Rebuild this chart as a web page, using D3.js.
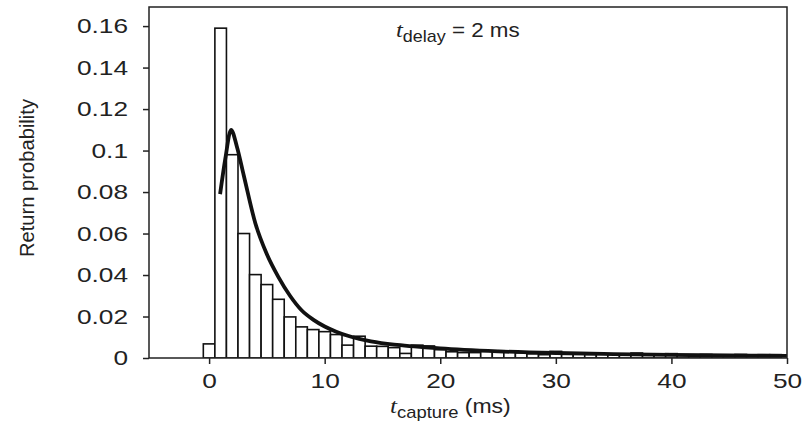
<!DOCTYPE html>
<html><head><meta charset="utf-8">
<script src="https://cdn.jsdelivr.net/npm/d3@7/dist/d3.min.js"></script>
<style>
body{margin:0;background:#fff;}
text{font-family:"Liberation Sans",Arial,sans-serif;fill:#222;}
</style></head>
<body><svg id="c" width="805" height="427"></svg>
<script>
// Histogram bins (1 ms wide, centred on integer t)
const binCenters = d3.range(0, 50);
const binValues = [0.0068,0.159,0.098,0.060,0.0402,0.0354,0.0283,0.0198,0.0150,0.0137,
  0.0127,0.0113,0.0062,0.0105,0.0057,0.0056,0.0050,0.0022,0.0062,0.0058,
  0.0040,0.0030,0.0026,0.0026,0.0033,0.0035,0.0030,0.0025,0.0020,0.0016,
  0.0032,0.0018,0.0018,0.0017,0.0018,0.0017,0.0018,0.0024,0.0018,0.0015,
  0.0021,0.0013,0.0013,0.0017,0.0013,0.0013,0.0017,0.0013,0.0016,0.0016];
// Model curve
const curveT = [0.95,1.4,1.9,2.4,3,4,5,6,7,8,9,10,11,12,13,14,16,18,20,25,30,35,40,45,50];
const curveP = [0.079,0.096,0.110,0.102,0.088,0.065,0.050,0.039,0.030,0.023,0.0185,0.0152,0.0127,0.0107,0.0092,0.008,0.0064,0.0055,0.0046,0.0032,0.0024,0.0019,0.0015,0.0012,0.0010];
const xTicks = [0,10,20,30,40,50];
const yTicks = [0,0.02,0.04,0.06,0.08,0.1,0.12,0.14,0.16];
const yTickLabels = ["0","0.02","0.04","0.06","0.08","0.1","0.12","0.14","0.16"];

const svg = d3.select("#c");
const L=149,R=787,T=7,B=358;
const SX=1.25;
const x = d3.scaleLinear().domain([-5.2,50]).range([L,R]);
const y = d3.scaleLinear().domain([0,0.1692]).range([B,T]);

svg.append("clipPath").attr("id","clip").append("rect")
  .attr("x",L).attr("y",T).attr("width",R-L).attr("height",B-T);

const g = svg.append("g").attr("clip-path","url(#clip)");
g.selectAll("rect.bar").data(binCenters).join("rect").attr("class","bar")
  .attr("x",d=>x(d-0.5)).attr("width",d=>x(d+0.5)-x(d-0.5))
  .attr("y",(d,i)=>y(binValues[i])).attr("height",(d,i)=>B-y(binValues[i]))
  .attr("fill","#fff").attr("stroke","#111").attr("stroke-width",1.6);

const line = d3.line().x((d,i)=>x(curveT[i])).y((d,i)=>y(curveP[i])).curve(d3.curveMonotoneX);
g.append("path").attr("d",line(curveT)).attr("fill","none")
  .attr("stroke","#111").attr("stroke-width",3.8).attr("stroke-linejoin","round");

// frame
svg.append("rect").attr("x",L).attr("y",T).attr("width",R-L).attr("height",B-T)
  .attr("fill","none").attr("stroke","#222").attr("stroke-width",1.5);

// axes
const xa = svg.append("g").attr("transform",`translate(0,${B})`)
  .call(d3.axisBottom(x).tickValues(xTicks).tickSize(6).tickPadding(9).tickFormat(d3.format("d")));
const ya = svg.append("g").attr("transform",`translate(${L},0)`)
  .call(d3.axisLeft(y).tickValues(yTicks).tickSize(6).tickPadding(15).tickFormat((d,i)=>yTickLabels[i]));
[xa,ya].forEach(a=>{
  a.select(".domain").remove();
  a.selectAll(".tick line").attr("stroke","#222").attr("stroke-width",1.5);
  a.selectAll(".tick text").style("font-size","21px").attr("fill","#222")
    .attr("transform",`scale(${SX},1)`);
});
ya.selectAll(".tick text").attr("x",-21/SX);

// y label
svg.append("text").attr("transform","translate(34,178) rotate(-90)")
  .attr("text-anchor","middle").style("font-family","'Liberation Sans Narrow','Liberation Sans',sans-serif")
  .style("font-size","21px").attr("textLength",158).attr("lengthAdjust","spacingAndGlyphs")
  .text("Return probability");

// x label
const xl = svg.append("text").attr("transform",`translate(390,413) scale(1.15,1)`).style("font-size","20px");
xl.append("tspan").style("font-style","italic").style("font-family","'Liberation Serif',serif").style("font-size","22px").text("t");
xl.append("tspan").attr("dy",5).style("font-size","16px").text("capture");
xl.append("tspan").attr("dy",-5).text(" (ms)");

// annotation
const an = svg.append("text").attr("transform",`translate(396,37) scale(1.12,1)`).style("font-size","20px");
an.append("tspan").style("font-style","italic").style("font-family","'Liberation Serif',serif").style("font-size","22px").text("t");
an.append("tspan").attr("dy",5).style("font-size","16px").text("delay");
an.append("tspan").attr("dy",-5).text(" = 2 ms");
</script></body></html>
